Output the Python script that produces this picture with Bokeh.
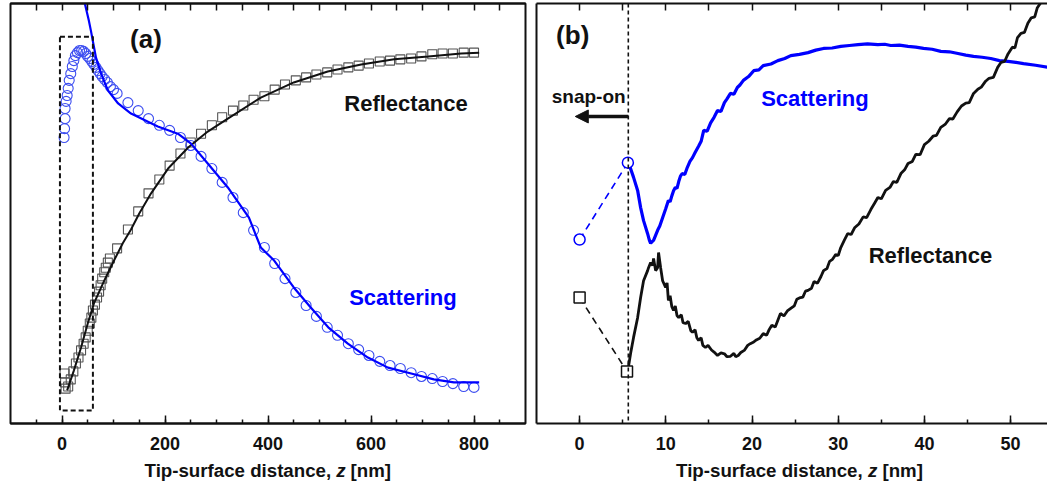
from bokeh.plotting import figure
from bokeh.layouts import row, column
from bokeh.models import LinearAxis, FixedTicker, Label, Arrow, NormalHead, Span, Range1d
from bokeh.core.properties import value
from bokeh.embed import file_html
from bokeh.resources import INLINE

FONT = "Liberation Sans"
BLUE = "#0000ff"
BLUE_MARK = "#3d4ef0"
GREY_MARK = "#555555"
INK = "#111111"

# ---------------- panel (a): approach curves over 800 nm ----------------
# reflectance (squares), normalised signal in arbitrary units 0..100
refl_z = [5, 6, 7, 12, 17, 22, 27, 32, 37, 42, 46, 50, 54, 57, 60, 64, 68, 72, 75, 78, 82, 85, 89, 93,
          107, 128, 148, 168, 189, 209, 230, 250, 270, 291, 311, 332, 352, 372, 393, 413, 433, 454,
          474, 494, 515, 535, 556, 576, 596, 617, 637, 657, 678, 698, 719, 739, 759, 780, 800]
refl_v = [11.9, 9.8, 8.3, 8.8, 10.5, 12.4, 14.3, 15.7, 17.4, 19.0, 20.5, 22.1, 23.8, 25.2, 26.9, 28.3,
          30.0, 31.4, 32.9, 34.5, 36.0, 37.1, 38.3, 39.3,
          41.7, 46.2, 50.5, 54.8, 58.1, 61.4, 64.3, 66.9, 69.0, 71.0, 72.9, 74.5, 75.7, 77.1, 77.9,
          79.5, 80.7, 81.7, 82.4, 83.1, 83.6, 84.3, 84.8, 85.2, 85.7, 86.2, 86.4, 86.7, 86.9, 87.4,
          87.9, 88.1, 88.1, 88.3, 88.3]

# scattering (circles)
scat_z = [4, 5, 6, 6, 8, 10, 12, 14, 17, 20, 23, 26, 30, 34, 38, 42, 46, 50, 54, 58, 62, 66, 70, 74,
          78, 83, 88, 94, 100,
          107, 128, 148, 168, 189, 209, 230, 250, 270, 291, 311, 332, 352, 372, 393, 413, 433, 454,
          474, 494, 515, 535, 556, 576, 596, 617, 637, 657, 678, 698, 719, 739, 759, 780, 800]
scat_v = [68.1, 70.2, 72.6, 75.0, 76.7, 78.1, 79.8, 81.7, 83.3, 85.0, 86.4, 87.6, 88.3, 88.8, 88.8,
          88.6, 88.1, 87.4, 86.9, 86.2, 85.5, 84.8, 84.0, 83.3, 82.6, 81.9, 81.2, 80.2, 79.5,
          78.6, 76.4, 74.5, 72.6, 71.0, 69.8, 68.1, 66.2, 63.6, 60.7, 57.4, 53.8, 50.2, 46.0, 41.9,
          38.1, 34.5, 31.2, 28.1, 25.5, 22.9, 21.0, 19.0, 17.6, 16.2, 14.8, 13.8, 13.1, 12.1, 11.2,
          10.7, 10.0, 9.5, 8.8, 8.6]

# model curves
refl_fit_z = [10, 23, 37, 50, 62, 82, 101, 118, 134, 150, 173, 206, 245, 283, 322, 386, 450, 516,
              581, 645, 711, 775, 810]
refl_fit_v = [7.9, 12.6, 18.1, 23.8, 28.6, 34.0, 38.8, 42.9, 46.2, 50.0, 54.8, 60.7, 65.7, 69.5,
              72.6, 77.6, 81.2, 83.8, 85.5, 86.7, 87.4, 88.1, 88.3]
scat_fit_z = [38, 43, 52, 56, 66, 76, 89, 109, 134, 186, 225, 250, 283, 322, 363, 386, 412, 450,
              483, 517, 555, 594, 633, 678, 722, 761, 810]
scat_fit_v = [106.0, 100.7, 96.0, 93.6, 87.1, 83.3, 79.3, 76.2, 73.8, 70.7, 69.0, 66.7, 61.9, 56.2,
              49.0, 41.9, 38.8, 32.4, 27.6, 22.9, 19.0, 15.7, 13.3, 11.9, 10.5, 9.8, 9.8]

# zoomed window marked in (a)
box_z = [-4, 60]
box_v = [3.1, 92.1]

a_major = [0, 200, 400, 600, 800]
a_minor = list(range(-50, 900, 50))

# ---------------- panel (b): first 55 nm ----------------
snap_z = 5.65
b_scat_pts_z = [0, 5.6]
b_scat_pts_v = [43.8, 62.1]
b_refl_pts_z = [0, 5.5]
b_refl_pts_v = [30.0, 12.4]

b_scat_z = [5.68, 6.26, 6.73, 7.08, 7.42, 7.89, 8.1, 8.24, 8.4, 8.58, 9.05, 9.3, 9.63, 10.0, 10.3,
            10.5, 10.7, 10.9, 11.1, 11.3, 11.5, 11.7, 11.9, 12.2, 12.5, 12.8, 13.1, 13.4, 13.8,
            14.1, 14.4, 14.8, 15.2, 15.6, 16.0, 16.4, 16.8, 17.1, 17.5, 17.9, 18.3, 18.6, 19.0,
            19.6, 20.2, 20.8, 21.3, 22.2, 23.0, 23.8, 24.5, 25.5, 26.5, 27.4, 28.3, 29.3, 30.3,
            31.3, 32.3, 33.4, 34.6, 35.4, 36.1, 37.1, 38.1, 39.0, 39.9, 40.9, 41.9, 42.9, 43.9,
            44.8, 45.7, 46.7, 47.7, 48.7, 49.7, 50.6, 51.5, 52.9, 54.3]
b_scat_v = [62.1, 58.6, 55.5, 51.4, 48.3, 45.2, 43.6, 42.9, 43.3, 43.6, 46.0, 47.0, 49.0, 51.2, 53.1,
            52.8, 54.2, 55.4, 56.2, 56.0, 57.6, 58.9, 59.5, 59.3, 61.0, 62.4, 63.3, 64.5, 66.0,
            67.2, 69.8, 69.6, 71.6, 72.9, 74.5, 74.3, 76.4, 77.3, 78.6, 78.4, 80.0, 80.6, 81.7,
            82.6, 84.0, 84.2, 85.2, 85.6, 86.4, 86.9, 87.6, 87.9, 88.3, 88.9, 89.3, 89.4, 89.8,
            90.0, 90.2, 90.4, 90.2, 90.3, 90.0, 90.1, 89.8, 89.6, 89.3, 89.1, 88.6, 88.5, 88.1,
            87.7, 87.4, 87.2, 86.9, 86.4, 86.2, 86.0, 85.7, 85.3, 84.8]

b_refl_z = [5.6, 5.92, 6.26, 6.73, 7.08, 7.42, 7.89, 8.0, 8.24, 8.47, 8.58, 8.82, 9.05, 9.16, 9.4,
            9.63, 9.98, 10.15, 10.3, 10.5, 10.7, 10.9, 11.1, 11.3, 11.5, 11.8, 12.0, 12.3, 12.6,
            12.9, 13.1, 13.4, 13.6, 13.8, 14.1, 14.3, 14.6, 14.9, 15.3, 15.6, 16.0, 16.4, 16.8,
            17.1, 17.5, 17.9, 18.1, 18.4, 18.7, 19.1, 19.5, 19.8, 20.2, 20.5, 20.9, 21.3, 21.7,
            22.0, 22.3, 22.7, 23.0, 23.3, 23.7, 24.1, 24.5, 24.9, 25.2, 25.5, 25.9, 26.2, 26.5,
            26.9, 27.2, 27.6, 28.0, 28.3, 28.7, 29.0, 29.3, 29.7, 30.0, 30.3, 30.7, 31.1, 31.5,
            31.9, 32.4, 32.9, 33.3, 33.8, 34.2, 34.6, 35.0, 35.5, 36.0, 36.4, 36.8, 37.3, 37.7,
            38.1, 38.6, 39.0, 39.5, 40.0, 40.5, 41.0, 41.4, 41.9, 42.4, 42.9, 43.3, 43.8, 44.3,
            44.8, 45.2, 45.7, 46.2, 46.6, 47.1, 47.5, 48.0, 48.5, 48.9, 49.3, 49.7, 50.2, 50.5,
            50.8, 51.2, 51.6, 52.0, 52.4, 52.8, 53.1, 53.5, 54.3]
b_refl_v = [12.6, 16.7, 20.5, 25.2, 30.0, 34.0, 36.4, 37.1, 38.3, 37.6, 39.3, 36.4, 37.1, 40.7, 37.1,
            34.0, 32.4, 33.5, 29.3, 30.4, 27.8, 26.9, 28.0, 25.7, 25.2, 25.9, 24.0, 23.8, 24.3,
            22.1, 21.7, 22.3, 20.4, 19.8, 20.4, 18.6, 18.1, 18.6, 17.5, 17.0, 16.2, 16.8, 16.6,
            15.9, 16.0, 16.7, 15.9, 16.2, 16.9, 17.4, 18.6, 19.0, 19.4, 19.9, 20.3, 21.4, 21.0,
            22.4, 23.4, 23.0, 24.6, 26.2, 25.6, 26.8, 27.4, 28.0, 29.6, 29.9, 30.1, 31.5, 31.7,
            32.2, 33.8, 33.4, 35.0, 36.4, 36.9, 38.6, 39.0, 40.2, 40.0, 41.9, 43.6, 45.2, 45.0,
            46.6, 47.5, 49.2, 49.0, 51.0, 52.4, 53.8, 53.5, 55.5, 56.2, 57.6, 57.4, 59.6, 60.4,
            61.9, 62.4, 64.1, 64.0, 66.4, 67.2, 68.4, 68.6, 70.5, 71.2, 72.6, 72.5, 74.2, 75.6,
            76.3, 76.4, 78.6, 79.6, 80.1, 81.5, 82.2, 82.4, 84.8, 86.0, 86.2, 88.0, 89.6, 89.4,
            91.9, 92.9, 93.1, 95.3, 96.6, 96.8, 99.0, 100.2, 101.5]

b_major = [0, 10, 20, 30, 40, 50]
b_minor = list(range(0, 60, 5))

AXIS_TITLE = ["Tip-surface distance,", "z", "[nm]"]


def style_bottom(ax, major, minor):
    ax.ticker = FixedTicker(ticks=major, minor_ticks=minor)
    ax.axis_line_width = 2
    ax.axis_line_color = INK
    ax.major_tick_in = 8
    ax.major_tick_out = 0
    ax.minor_tick_in = 4
    ax.minor_tick_out = 0
    ax.major_tick_line_width = 1.5
    ax.minor_tick_line_width = 1.5
    ax.major_tick_line_color = INK
    ax.minor_tick_line_color = INK
    ax.major_label_text_font = FONT
    ax.major_label_text_font_size = "18px"
    ax.major_label_text_font_style = "bold"
    ax.major_label_text_color = INK
    ax.major_label_standoff = 13


def top_axis(p, ticks):
    # unlabelled top border: every tick is drawn as an inward minor tick
    ax = LinearAxis(ticker=FixedTicker(ticks=[], minor_ticks=ticks))
    ax.axis_line_width = 2
    ax.axis_line_color = INK
    ax.major_tick_line_color = None
    ax.minor_tick_in = 7
    ax.minor_tick_out = 0
    ax.minor_tick_line_width = 1.5
    ax.minor_tick_line_color = INK
    ax.major_label_standoff = 0
    p.add_layout(ax, "above")


def title_strip(width):
    t = figure(width=width, height=24, output_backend="svg", toolbar_location=None,
               x_range=Range1d(0, width), y_range=Range1d(0, 24),
               x_axis_location=None, y_axis_location=None, min_border=0)
    t.outline_line_color = None
    t.grid.visible = False
    t.background_fill_color = "white"
    t.border_fill_color = "white"
    common = dict(y=[12], text_font=value(FONT), text_font_size="18.7px", text_color=INK,
                  text_baseline="alphabetic")
    t.text(x=[330], text=[AXIS_TITLE[0]], text_align="right", text_font_style="bold", **common)
    t.text(x=[340], text=[AXIS_TITLE[1]], text_align="center", text_font_style="bold italic", **common)
    t.text(x=[350], text=[AXIS_TITLE[2]], text_align="left", text_font_style="bold", **common)
    return t


def tag(p, x, y, text, color, size):
    p.add_layout(Label(x=x, y=y, text=text, text_align="center", text_baseline="middle",
                       text_font=FONT, text_font_size=size, text_font_style="bold", text_color=color))


# ---------------- build (a) ----------------
pa = figure(width=530, height=458, output_backend="svg", toolbar_location=None,
            x_range=Range1d(-100, 900), y_range=Range1d(0, 100), y_axis_location=None,
            min_border_left=10, min_border_right=5, min_border_top=3, min_border_bottom=35)
pa.background_fill_color = "white"
pa.border_fill_color = "white"
pa.grid.visible = False
pa.outline_line_color = INK
pa.outline_line_width = 2
style_bottom(pa.xaxis[0], a_major, a_minor)
top_axis(pa, a_minor)

pa.scatter(refl_z, refl_v, marker="square", size=9, fill_color=None, line_color=GREY_MARK, line_width=1.1)
pa.scatter(scat_z, scat_v, marker="circle", size=10, fill_color=None, line_color=BLUE_MARK, line_width=1.1)
pa.line(refl_fit_z, refl_fit_v, line_color=INK, line_width=2)
pa.line(scat_fit_z, scat_fit_v, line_color=BLUE, line_width=2.2)
pa.quad(left=box_z[0], right=box_z[1], bottom=box_v[0], top=box_v[1], fill_color=None,
        line_color=INK, line_width=2, line_dash="5 3")

tag(pa, 163, 91.5, "(a)", INK, "26px")
tag(pa, 668, 76.2, "Reflectance", INK, "22px")
tag(pa, 662, 30.0, "Scattering", BLUE, "22px")

# ---------------- build (b) ----------------
pb = figure(width=517, height=458, output_backend="svg", toolbar_location=None,
            x_range=Range1d(-5, 54.28), y_range=Range1d(0, 100),
            min_border_left=6, min_border_right=0, min_border_top=3, min_border_bottom=35)
pb.background_fill_color = "white"
pb.border_fill_color = "white"
pb.grid.visible = False
pb.outline_line_color = None
style_bottom(pb.xaxis[0], b_major, b_minor)
top_axis(pb, b_minor)
ya = pb.yaxis[0]
ya.ticker = FixedTicker(ticks=[])
ya.axis_line_width = 2
ya.axis_line_color = INK
ya.major_tick_line_color = None
ya.minor_tick_line_color = None
ya.major_label_standoff = 0

pb.add_layout(Span(location=snap_z, dimension="height", line_color=INK, line_width=1.6, line_dash="4 3"))

pb.line(b_scat_pts_z, b_scat_pts_v, line_color=BLUE, line_width=1.6, line_dash="7 5")
pb.line(b_refl_pts_z, b_refl_pts_v, line_color=INK, line_width=1.6, line_dash="7 5")
pb.line(b_scat_z, b_scat_v, line_color=BLUE, line_width=3.2)
pb.line(b_refl_z, b_refl_v, line_color=INK, line_width=2.8)
pb.scatter(b_scat_pts_z, b_scat_pts_v, marker="circle", size=11, fill_color="white", line_color=BLUE, line_width=1.5)
pb.scatter(b_refl_pts_z, b_refl_pts_v, marker="square", size=11, fill_color="white", line_color=INK, line_width=1.5)

pb.add_layout(Arrow(end=NormalHead(size=13, fill_color=INK, line_color=INK),
                    x_start=snap_z, y_start=73.1, x_end=-0.5, y_end=73.1, line_color=INK, line_width=3.5))

tag(pb, -0.8, 92.4, "(b)", INK, "26px")
tag(pb, 1.05, 77.9, "snap-on", INK, "19px")
tag(pb, 27.3, 77.4, "Scattering", BLUE, "22px")
tag(pb, 40.7, 40.0, "Reflectance", INK, "22px")

layout = row(column(pa, title_strip(530), spacing=0), column(pb, title_strip(517), spacing=0), spacing=0)
with open("out.html", "w") as f:
    f.write(file_html(layout, INLINE))
